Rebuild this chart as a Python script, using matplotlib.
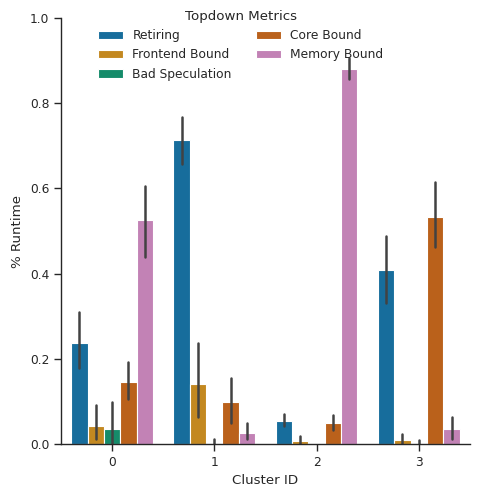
import numpy as np
import pandas as pd
import seaborn as sns
import matplotlib
matplotlib.use("Agg")
import matplotlib.pyplot as plt

sns.set_theme(context="paper", style="ticks", palette="colorblind")

clusters = ["0", "1", "2", "3"]
metrics = ["Retiring", "Frontend Bound", "Bad Speculation", "Core Bound", "Memory Bound"]

# mean value per metric, one entry per cluster
retiring = [0.237, 0.714, 0.054, 0.408]
frontend = [0.042, 0.142, 0.007, 0.009]
bad_spec = [0.035, 0.003, 0.0, 0.002]
core = [0.146, 0.098, 0.049, 0.532]
memory = [0.526, 0.027, 0.880, 0.035]

# error bar ends (low, high) per metric, per cluster
retiring_err = [(0.178, 0.309), (0.657, 0.768), (0.043, 0.070), (0.330, 0.488)]
frontend_err = [(0.011, 0.091), (0.063, 0.238), (0.000, 0.019), (0.001, 0.023)]
bad_spec_err = [(0.002, 0.098), (0.000, 0.011), (0.0, 0.0), (0.000, 0.009)]
core_err = [(0.107, 0.192), (0.049, 0.154), (0.034, 0.068), (0.463, 0.614)]
memory_err = [(0.439, 0.606), (0.011, 0.049), (0.856, 0.905), (0.013, 0.063)]

values = [retiring, frontend, bad_spec, core, memory]
errors = [retiring_err, frontend_err, bad_spec_err, core_err, memory_err]

rows = []
for m, vals in zip(metrics, values):
    for c, v in zip(clusters, vals):
        rows.append({"Cluster ID": c, "Metric": m, "% Runtime": v})
df = pd.DataFrame(rows)

fig = plt.figure(figsize=(4.8, 4.99), dpi=100)
ax = fig.add_axes([0.127, 0.110, 0.852, 0.854])

sns.barplot(data=df, x="Cluster ID", y="% Runtime", hue="Metric",
            hue_order=metrics, order=clusters, errorbar=None, ax=ax)

# error bars
n = len(metrics)
w = 0.8 / n
for j, errs in enumerate(errors):
    for i, (lo, hi) in enumerate(errs):
        if hi - lo <= 0:
            continue
        x = i - 0.4 + w * (j + 0.5)
        ax.plot([x, x], [lo, hi], color=".26", linewidth=1.8)

ax.set_ylim(0, 1.0)
ax.set_xlim(-0.5, 3.5)
sns.despine(ax=ax)
sns.move_legend(ax, "upper center", bbox_to_anchor=(0.44, 1.044), ncol=2,
                title="Topdown Metrics", frameon=False)

fig.savefig("out.png", dpi=100)
